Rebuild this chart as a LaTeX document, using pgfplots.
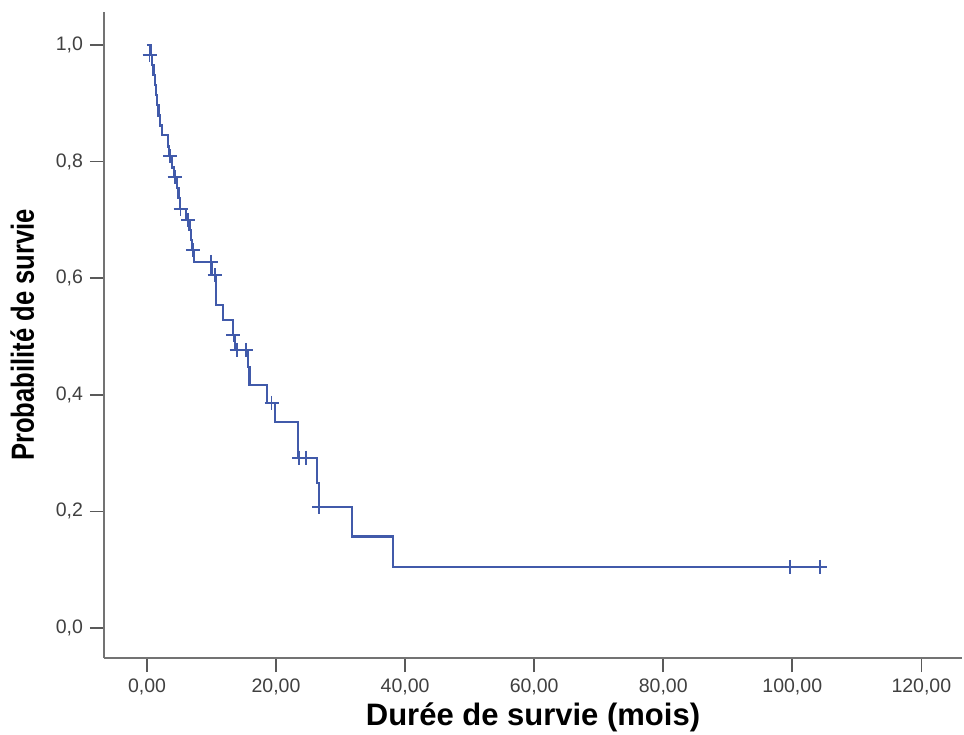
\documentclass[border=0pt]{standalone}
\usepackage{fontspec}
\setmainfont{Liberation Sans}
\newfontfamily\narrowbold{Liberation Sans}[FakeStretch=0.8, UprightFont=*, BoldFont=* Bold]
\usepackage{pgfplots}
\pgfplotsset{compat=1.18}
\definecolor{kmblue}{RGB}{65,90,170}

\begin{document}
\begin{tikzpicture}
\begin{axis}[
    name=ax,
    scale only axis,
    width=429pt, height=323pt,
    xmin=-6.66, xmax=126.3,
    ymin=-0.0515, ymax=1.0566,
    axis x line*=bottom,
    axis y line*=left,
    axis line style={-, black!55, line width=0.6pt},
    tick align=outside,
    major tick length=7pt,
    tick style={black!65, line width=0.8pt},
    xtick={0,20,...,120},
    ytick={0,0.2,...,1.0},
    /pgf/number format/assume math mode=true,
    xticklabel style={/pgf/number format/.cd, fixed, fixed zerofill, precision=2, use comma},
    yticklabel style={/pgf/number format/.cd, fixed, fixed zerofill, precision=1, use comma},
    ticklabel style={font=\fontsize{9.75}{11}\selectfont, text=black!75},
    xlabel={Durée de survie (mois)},
    ylabel={Probabilité de survie},
    xlabel style={font=\fontsize{15.5}{18}\selectfont\bfseries, yshift=3pt},
    ylabel style={font=\fontsize{16}{18}\selectfont\narrowbold\bfseries, yshift=4pt},
    clip=false,
]
% Kaplan-Meier step curve (event time, survival after event)
\addplot[const plot, kmblue, line width=1.1pt, mark=none] coordinates {
    (0,1.000) (0.55,0.983) (0.8,0.966) (1.0,0.948) (1.2,0.931)
    (1.4,0.914) (1.6,0.897) (1.8,0.879) (2.0,0.862) (2.3,0.845)
    (3.3,0.826) (3.45,0.809) (3.9,0.790) (4.15,0.773) (4.6,0.755)
    (4.9,0.737) (5.1,0.718) (6.0,0.700) (6.6,0.682) (6.8,0.665)
    (7.0,0.648) (7.3,0.628) (10.0,0.605) (10.7,0.554) (11.8,0.528)
    (13.3,0.503) (13.7,0.477) (15.6,0.447) (15.9,0.417) (18.6,0.386)
    (19.8,0.354) (23.4,0.292) (26.3,0.249) (26.6,0.208) (31.8,0.157)
    (38.1,0.105) (104.3,0.105)
};
% censored observations
\addplot[only marks, mark=+, kmblue, mark size=3.5pt, line width=0.9pt] coordinates {
    (0.4,0.983) (3.6,0.809) (4.3,0.773) (5.2,0.718) (6.4,0.700)
    (7.1,0.648) (9.9,0.628) (10.5,0.605) (13.4,0.503) (13.9,0.477)
    (15.4,0.477) (19.3,0.386) (23.6,0.292) (24.7,0.292) (26.7,0.208)
    (99.6,0.105) (104.3,0.105)
};
\end{axis}
\pgfresetboundingbox
\useasboundingbox ([xshift=-52pt,yshift=-38pt]ax.south west) rectangle ([xshift=1pt,yshift=6pt]ax.north east);
\end{tikzpicture}
\end{document}
